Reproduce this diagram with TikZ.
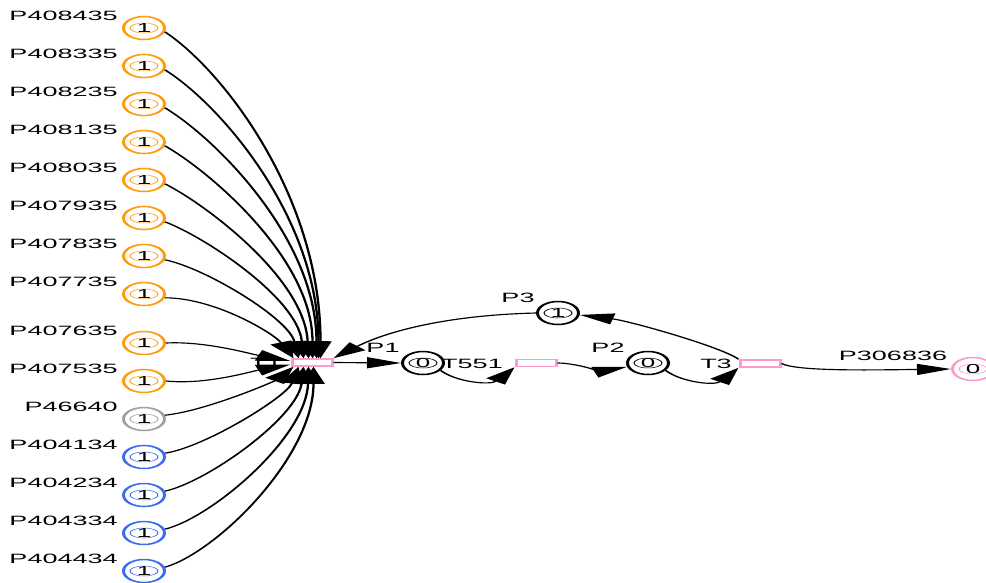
\documentclass[tikz,border=0pt]{standalone}
\usepackage{fontspec}
\setmainfont{Liberation Sans}
\usetikzlibrary{arrows.meta,shapes.geometric}
\definecolor{porange}{HTML}{FF9C0E}
\definecolor{pgray}{HTML}{A0A0A0}
\definecolor{pblue}{HTML}{3A6BF0}
\definecolor{tpink}{HTML}{FF9ACD}
\tikzset{
  pnplace/.style={ellipse, draw=#1, line width=1.5pt, minimum width=20.5pt,
    minimum height=23pt, inner sep=0pt, font=\fontsize{13}{13}\selectfont,
    path picture={\draw[#1, line width=0.5pt] (path picture bounding box.center)
      ellipse [x radius=7pt, y radius=5pt];}},
  pntrans/.style={draw=tpink, fill=white, line width=1.5pt, minimum width=20pt,
    minimum height=7pt, inner sep=0pt},
  lbl/.style={font=\fontsize{13.5}{13.5}\selectfont, inner sep=0pt},
  pnarc/.style={line width=1.15pt, -{Triangle[length=17pt,width=11pt]}}
}
\begin{document}
\begin{tikzpicture}[x=1pt,y=-1pt]
\useasboundingbox (0,0) rectangle (986,582);
% the net is laid out at half width and stretched horizontally
\begin{scope}[transform canvas={xscale=2}]
  % main chain of transitions and places
  \node[lbl] (T1-lbl) at (133,363) {T1};
  \node[pntrans] (T1) at (156,362.5) {};
  \node[pnplace=black] (P1) at (211.5,363) {0};
  \node[lbl] (P1-lbl) at (191.5,348) {P1};
  \node[pntrans] (T551) at (268,363) {};
  \node[lbl] (T551-lbl) at (236,364) {T551};
  \node[pnplace=black] (P2) at (324,363) {0};
  \node[lbl] (P2-lbl) at (304,348) {P2};
  \node[pntrans] (T3) at (380,363.5) {};
  \node[lbl] (T3-lbl) at (358,364) {T3};
  \node[pnplace=black] (P3) at (279,313) {1};
  \node[lbl] (P3-lbl) at (259,298) {P3};
  \node[pnplace=tpink] (P306836) at (486.5,369) {0};
  \node[lbl] (P306836-lbl) at (446.5,356) {P306836};

  % input places entering T1 from above
  \foreach \nm/\yy/\ex/\ax/\ay/\bx/\by in {
      P408435/28/15/30/40/0/-160,
      P408335/66/14/28/35/0/-140,
      P408235/104/13/25/30/0/-120,
      P408135/142/11/22/25/0/-100,
      P408035/180/9/20/20/-2/-80,
      P407935/218/6.5/20/15/-3/-60,
      P407835/256/4/20/8/-5/-40,
      P407735/294/1.5/25/0/-10/-25} {
    \node[pnplace=porange] (\nm) at (72,\yy) {1};
    \node[lbl, anchor=east] (\nm-lbl) at (59,\yy-12.5) {\nm};
    \draw[pnarc] (\nm.-20) .. controls +(\ax,\ay) and +(\bx,\by)
      .. ([shift={(\ex,0)}]T1.north west);
  }

  % input places entering T1 from the left
  \foreach \nm/\yy/\dy/\ay/\by in {
      P407635/343/-1.5/-2/-7,
      P407535/381/2/4/7} {
    \node[pnplace=porange] (\nm) at (72,\yy) {1};
    \node[lbl, anchor=east] (\nm-lbl) at (59,\yy-12.5) {\nm};
    \draw[pnarc] (\nm.east) .. controls +(20,\ay) and +(-20,\by)
      .. ([shift={(0,\dy)}]T1.west);
  }

  % input places entering T1 from below
  \foreach \nm/\yy/\col/\ex/\ax/\ay/\bx/\by in {
      P46640/419/pgray/1.5/20/-4/-10/15,
      P404134/457/pblue/4/20/-6/-6/30,
      P404234/495/pblue/6.5/22/-10/-3/50,
      P404334/533/pblue/9/24/-12/-1/70,
      P404434/571/pblue/11.5/26/-15/0/90} {
    \node[pnplace=\col] (\nm) at (72,\yy) {1};
    \node[lbl, anchor=east] (\nm-lbl) at (59,\yy-12.5) {\nm};
    \draw[pnarc] (\nm.20) .. controls +(\ax,\ay) and +(\bx,\by)
      .. ([shift={(\ex,0)}]T1.south west);
  }

  % arcs along the chain
  \draw[pnarc] (T1.east) -- (P1.west);
  \draw[pnarc] (P1.-40) .. controls +(8,12) and +(-12,18) .. (T551.south west);
  \draw[pnarc] (T551.east) .. controls +(8,0) and +(-12,4) .. (P2.200);
  \draw[pnarc] (P2.-40) .. controls +(8,12) and +(-12,18) .. (T3.south west);
  \draw[pnarc] (T3.north west) .. controls +(-8,-12) and +(25,6) .. (P3.-10);
  \draw[pnarc] (P3.west) .. controls +(-60,3) and +(15,-15) .. (T1.north east);
  \draw[pnarc] (T3.east) .. controls +(8,8) and +(-40,1) .. (P306836.west);
\end{scope}
\end{tikzpicture}
\end{document}
